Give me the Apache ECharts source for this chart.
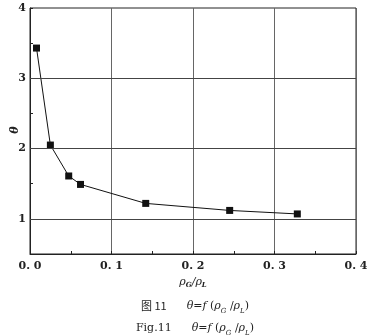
<!DOCTYPE html>
<html><head><meta charset="utf-8">
<script src="https://cdn.jsdelivr.net/npm/echarts@6/dist/echarts.min.js"></script>
<style>html,body{margin:0;padding:0;background:#fff}#c{width:377px;height:336px}</style>
</head><body><div id="c"></div>
<script>
const xVals = [0.008, 0.025, 0.0475, 0.062, 0.142, 0.245, 0.328];
const yVals = [3.43, 2.05, 1.61, 1.49, 1.22, 1.12, 1.07];
const xTicks = [0, 0.1, 0.2, 0.3, 0.4];
const xTickLabels = ['0. 0', '0. 1', '0. 2', '0. 3', '0. 4'];
const yTicks = [1, 2, 3, 4];
const yTickLabels = ['1', '2', '3', '4'];
const yName = 'θ';

const serif = '"DejaVu Serif", "Liberation Serif", serif';
const chart = echarts.init(document.getElementById('c'), null, {renderer: 'canvas'});
const pts = xVals.map((x, i) => [x, yVals[i]]);
const sub = {fontFamily: serif, fontSize: 7, fontStyle: 'italic', fontWeight: 'normal', verticalAlign: 'bottom', padding: [6, 0, 0, 0], color: '#222'};
const capRich = {
  cn: {fontFamily: '"Noto Sans CJK SC", sans-serif', fontSize: 11, fontWeight: 'normal', color: '#222'},
  it: {fontFamily: serif, fontStyle: 'italic', fontWeight: 'normal', fontSize: 11, color: '#222'},
  n: {fontFamily: serif, fontWeight: 'normal', fontSize: 11, color: '#222'},
  s: sub
};
chart.setOption({
  animation: false,
  backgroundColor: '#fff',
  grid: {left: 30, right: 21, top: 8, bottom: 82, outerBoundsMode: 'none', containLabel: false,
    show: true, borderColor: '#222', borderWidth: 1, backgroundColor: 'transparent'},
  graphic: [{
    type: 'text', x: 15, y: 130, rotation: Math.PI / 2,
    style: {text: yName, fontFamily: serif, fontStyle: 'italic', fontWeight: 'bold', fontSize: 11,
      fill: '#222', align: 'center', verticalAlign: 'middle'}
  }],
  title: [
    {left: 190, top: 292, textAlign: 'center',
     text: '{cn|图 11}    {it|θ}{n|=}{it|f}{n| (}{it|ρ}{s|G}{n| /}{it|ρ}{s|L}{n|)}',
     textStyle: {fontWeight: 'normal', rich: capRich}},
    {left: 190, top: 314, textAlign: 'center',
     text: '{n|Fig.11}    {it|θ}{n|=}{it|f}{n| (}{it|ρ}{s|G}{n| /}{it|ρ}{s|L}{n|)}',
     textStyle: {fontWeight: 'normal', rich: capRich}}
  ],
  xAxis: {
    type: 'value', min: 0, max: 0.4, interval: 0.1,
    name: '{it|ρ}{s|G}{it|/ρ}{s|L}', nameLocation: 'middle', nameGap: 22,
    nameTextStyle: {rich: {
      it: {fontFamily: serif, fontStyle: 'italic', fontSize: 11, color: '#222'},
      s: {fontFamily: serif, fontStyle: 'italic', fontWeight: 'bold', fontSize: 7, verticalAlign: 'bottom', padding: [6, 0, 0, 0], color: '#222'}}},
    axisLine: {show: true, lineStyle: {color: '#222', width: 1}},
    axisTick: {show: true, inside: true, length: 3, lineStyle: {color: '#222'}},
    minorTick: {show: true, splitNumber: 2, length: 3, lineStyle: {color: '#222'}},
    splitLine: {show: true, lineStyle: {color: '#666', width: 1}},
    axisLabel: {margin: 7, fontFamily: serif, fontSize: 11, fontWeight: 'bold', color: '#222',
      formatter: v => { const i = xTicks.findIndex(t => Math.abs(t - v) < 1e-9); return i >= 0 ? xTickLabels[i] : ''; }}
  },
  yAxis: {
    type: 'value', min: 0.5, max: 4, interval: 0.5,
    axisLine: {show: true, lineStyle: {color: '#222', width: 1}},
    axisTick: {show: true, inside: true, length: 3, lineStyle: {color: '#222'}},
    splitLine: {show: false},
    axisLabel: {margin: 4, fontFamily: serif, fontSize: 11, fontWeight: 'bold', color: '#222',
      formatter: v => { const i = yTicks.findIndex(t => Math.abs(t - v) < 1e-9); return i >= 0 ? yTickLabels[i] : ''; }}
  },
  series: [{
    type: 'line', data: pts, symbol: 'rect', symbolSize: 7,
    lineStyle: {color: '#111', width: 1}, itemStyle: {color: '#111'},
    markLine: {silent: true, symbol: 'none', label: {show: false},
      lineStyle: {color: '#444', width: 1, type: 'solid'},
      data: yTicks.slice(0, 3).map(v => ({yAxis: v}))}
  }]
});
</script></body></html>
